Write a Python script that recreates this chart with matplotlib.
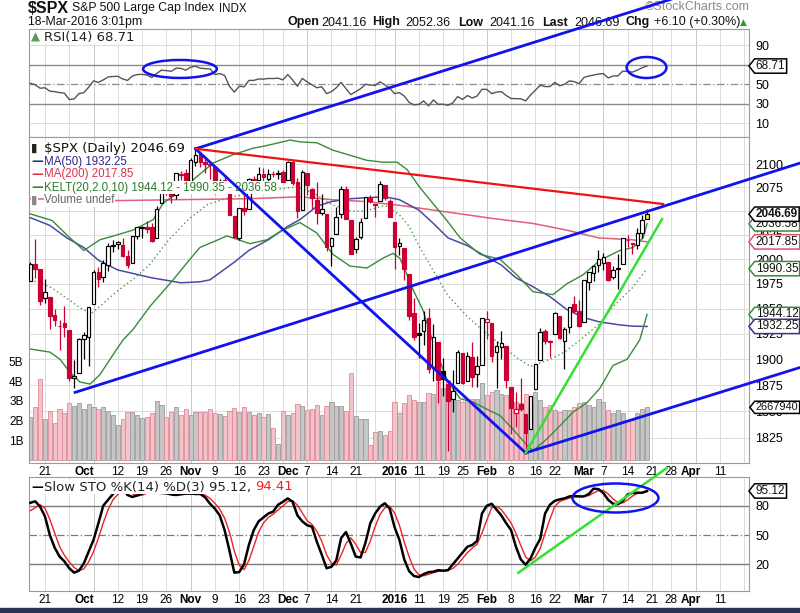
import numpy as np
import pandas as pd
import matplotlib
matplotlib.use("Agg")
import matplotlib.pyplot as plt
import matplotlib.transforms as mtransforms
from matplotlib.patches import Ellipse, Rectangle
from matplotlib.path import Path
from matplotlib.ticker import FixedLocator, NullLocator, FixedFormatter, NullFormatter

plt.rcParams["font.family"] = ["DejaVu Sans"]

# ---- trading calendar (Sep 16 2015 .. Apr 2016, exchange holidays removed)
HOLIDAYS = ["2015-11-26", "2015-12-25", "2016-01-01", "2016-01-18", "2016-02-15", "2016-03-25"]
days = pd.bdate_range("2015-09-16", "2016-04-22")
days = days[~days.isin(pd.to_datetime(HOLIDAYS))]
pos = {d.strftime("%Y-%m-%d"): i for i, d in enumerate(days)}

# ---- $SPX daily candles, Sep 16 2015 .. Mar 18 2016
opens = [1978.02, 1995.33, 1989.66, 1960.84, 1961.39, 1943.24, 1932.24, 1935.93, 1929.18, 1881.90,
         1887.14, 1919.65, 1921.77, 1954.33, 1986.63, 1982.34, 1994.01, 2013.73, 2015.65, 2015.00,
         2003.66, 1996.47, 2024.37, 2031.73, 2033.13, 2033.47, 2021.88, 2058.19, 2075.08, 2068.75,
         2066.48, 2088.35, 2090.00, 2080.76, 2102.63, 2110.60, 2101.68, 2098.60, 2096.56, 2077.19,
         2083.41, 2072.29, 2044.64, 2022.08, 2053.67, 2051.99, 2083.70, 2082.82, 2089.41, 2084.42,
         2089.30, 2088.82, 2090.95, 2082.93, 2101.71, 2080.71, 2051.24, 2090.42, 2073.39, 2061.17,
         2047.93, 2047.27, 2013.37, 2025.55, 2046.50, 2073.76, 2040.81, 2010.27, 2023.15, 2042.20,
         2063.52, 2057.77, 2060.54, 2077.34, 2060.59, 2038.20, 2013.78, 2011.71, 1985.32, 1945.97,
         1926.12, 1927.83, 1940.34, 1891.68, 1916.68, 1888.66, 1876.18, 1861.46, 1877.40, 1906.28,
         1878.79, 1902.52, 1885.22, 1894.00, 1936.94, 1935.26, 1907.07, 1911.67, 1913.07, 1873.25,
         1848.46, 1857.10, 1847.00, 1833.40, 1871.44, 1898.80, 1927.57, 1916.74, 1924.44, 1942.38,
         1917.56, 1931.87, 1954.95, 1947.13, 1937.09, 1976.60, 1985.60, 1994.01, 1996.11, 1996.88,
         1981.44, 1990.97, 1994.71, 2019.27, 2015.27, 2014.24, 2026.90, 2041.16]
highs = [1997.26, 2020.86, 1989.66, 1979.64, 1961.39, 1949.52, 1938.88, 1952.89, 1929.18, 1899.48,
         1920.53, 1927.21, 1951.36, 1989.17, 1991.62, 1999.31, 2016.50, 2020.13, 2018.66, 2022.34,
         2009.56, 2024.15, 2033.54, 2034.45, 2039.12, 2037.97, 2055.20, 2079.74, 2075.14, 2070.37,
         2090.35, 2092.52, 2094.32, 2106.20, 2116.48, 2114.59, 2108.78, 2101.91, 2096.56, 2083.67,
         2086.94, 2072.29, 2044.64, 2053.22, 2066.69, 2085.31, 2086.74, 2097.06, 2095.61, 2094.12,
         2093.00, 2093.29, 2093.81, 2103.37, 2104.27, 2085.00, 2093.84, 2090.42, 2073.85, 2080.33,
         2067.65, 2047.27, 2022.92, 2053.87, 2076.72, 2076.37, 2040.81, 2022.90, 2042.74, 2064.73,
         2067.36, 2057.77, 2081.56, 2077.34, 2062.54, 2038.20, 2021.94, 2011.71, 1985.32, 1960.40,
         1935.65, 1947.38, 1950.33, 1934.47, 1916.68, 1901.44, 1876.18, 1889.85, 1908.85, 1906.28,
         1906.73, 1916.99, 1902.96, 1940.24, 1947.20, 1935.26, 1918.01, 1927.35, 1913.07, 1873.25,
         1868.25, 1881.60, 1847.00, 1864.78, 1895.77, 1930.68, 1930.00, 1918.78, 1946.70, 1942.38,
         1932.08, 1951.83, 1962.96, 1958.27, 1978.35, 1986.51, 1993.69, 2009.13, 2006.12, 1996.88,
         1992.69, 2005.08, 2022.37, 2024.57, 2015.94, 2032.02, 2046.19, 2052.36]
lows = [1977.93, 1980.88, 1953.45, 1955.80, 1929.22, 1932.57, 1908.92, 1921.50, 1879.21, 1871.91,
        1887.14, 1900.70, 1893.70, 1954.33, 1971.99, 1976.44, 1987.53, 2007.61, 2010.55, 2001.78,
        1990.73, 1996.47, 2020.46, 2022.31, 2026.61, 2017.22, 2021.88, 2058.19, 2066.53, 2058.84,
        2063.11, 2082.63, 2079.34, 2080.76, 2097.51, 2096.98, 2090.41, 2083.74, 2068.24, 2069.91,
        2074.85, 2045.66, 2022.02, 2019.94, 2045.90, 2051.99, 2078.76, 2082.82, 2081.39, 2070.29,
        2086.30, 2084.13, 2080.41, 2082.93, 2077.11, 2042.35, 2051.24, 2066.78, 2052.32, 2036.53,
        2045.67, 2008.80, 1993.26, 2025.55, 2042.43, 2041.66, 2005.33, 2005.93, 2020.49, 2042.20,
        2058.73, 2044.20, 2060.54, 2061.97, 2043.62, 1989.68, 2004.17, 1979.05, 1938.83, 1918.46,
        1901.10, 1914.35, 1886.41, 1878.93, 1857.83, 1864.60, 1812.29, 1848.98, 1877.40, 1875.97,
        1878.79, 1872.70, 1873.65, 1894.00, 1920.30, 1897.29, 1872.23, 1900.52, 1872.65, 1828.46,
        1834.94, 1850.32, 1810.10, 1833.40, 1871.44, 1898.80, 1915.09, 1902.17, 1924.44, 1919.44,
        1891.00, 1925.41, 1945.78, 1931.81, 1937.09, 1968.80, 1977.37, 1986.77, 1989.38, 1977.43,
        1979.84, 1969.25, 1994.71, 2012.05, 2005.23, 2010.04, 2022.16, 2041.16]
closes = [1995.31, 1990.20, 1958.03, 1966.97, 1942.74, 1938.76, 1932.24, 1931.34, 1881.77, 1884.09,
          1920.03, 1923.82, 1951.36, 1987.05, 1979.92, 1995.83, 2013.43, 2014.89, 2017.46, 2003.69,
          1994.24, 2023.86, 2033.11, 2033.66, 2030.77, 2018.94, 2052.51, 2075.15, 2071.18, 2065.89,
          2090.35, 2089.41, 2079.36, 2104.05, 2109.79, 2102.31, 2099.93, 2099.20, 2078.58, 2081.72,
          2075.00, 2045.97, 2023.04, 2053.19, 2050.44, 2083.58, 2081.24, 2089.17, 2086.59, 2089.14,
          2088.87, 2090.11, 2080.41, 2102.63, 2079.51, 2049.62, 2091.69, 2077.07, 2063.59, 2047.62,
          2052.23, 2012.37, 2021.94, 2043.41, 2073.07, 2041.89, 2005.55, 2021.15, 2038.97, 2064.29,
          2060.99, 2056.50, 2078.36, 2063.36, 2043.94, 2012.66, 2016.71, 1990.26, 1943.09, 1922.03,
          1923.67, 1938.68, 1890.28, 1921.84, 1880.33, 1881.33, 1859.33, 1868.99, 1906.90, 1877.08,
          1903.63, 1882.95, 1893.36, 1940.24, 1939.38, 1903.03, 1912.53, 1915.45, 1880.05, 1853.44,
          1852.21, 1851.86, 1829.08, 1864.78, 1895.58, 1926.82, 1917.83, 1917.78, 1945.50, 1921.27,
          1929.80, 1951.70, 1948.05, 1932.23, 1978.35, 1986.45, 1993.40, 1999.99, 2001.76, 1979.26,
          1989.26, 1989.57, 2022.19, 2019.64, 2015.93, 2027.22, 2040.59, 2046.69]
PREV_CLOSE = 1978.09
volume_b = [2.2, 2.7, 4.1, 2.1, 2.5, 1.85, 2.6, 2.4, 2.9, 2.75,
            2.9, 2.6, 2.85, 2.7, 2.6, 2.7, 2.5, 2.3, 1.75, 2.05,
            2.45, 2.45, 2.3, 2.15, 2.2, 2.4, 3.0, 2.8, 2.2, 2.45,
            2.7, 2.3, 2.6, 2.3, 2.45, 2.45, 2.45, 2.6, 2.4, 2.35,
            2.25, 2.5, 2.65, 2.45, 2.7, 2.45, 2.3, 2.4, 2.2, 2.35,
            1.6, 0.8, 2.5, 2.3, 2.4, 2.85, 2.75, 2.55, 2.6, 2.8,
            2.3, 2.75, 2.95, 2.75, 2.75, 2.5, 4.4, 2.25, 2.1, 2.1,
            0.75, 1.4, 1.45, 1.25, 1.45, 2.95, 2.36, 2.87, 3.3, 3.04,
            2.96, 2.96, 3.41, 3.36, 3.97, 3.64, 4.06, 3.13, 3.04, 2.96,
            3.04, 3.1, 3.1, 3.89, 3.3, 3.47, 3.55, 3.36, 3.3, 3.36,
            2.96, 2.87, 3.36, 2.87, 3.45, 3.04, 2.7, 2.79, 2.53, 2.45,
            2.53, 2.53, 2.7, 2.87, 2.96, 2.79, 2.7, 3.1, 2.96, 2.53,
            2.4, 2.53, 2.36, 2.0, 2.0, 2.4, 2.58, 2.67]

# ---- overlays (x = trading-day index)
MA50_X = [0, 4, 7.5, 11, 14, 18, 25, 31, 35, 37, 42, 45, 49, 53, 55.5, 59, 62, 66, 69, 73,
          76, 80, 83, 86, 90, 93, 97, 100, 103.5, 107, 110.5, 114, 117, 121, 124, 127]
MA50_Y = [2043, 2035, 2022, 2012, 1999, 1989, 1981, 1976, 1977, 1979, 1997, 2009, 2020, 2034, 2041,
          2055, 2060, 2063, 2064, 2065, 2062, 2051, 2037, 2022, 2014, 2005, 1994, 1981, 1972, 1962,
          1949, 1941, 1937, 1934, 1932.5, 1932.25]
MA200_X = [0, 18, 31, 45, 55.5, 62, 69, 76, 83, 90, 94, 103.5, 110.5, 117, 124, 127]
MA200_Y = [2063, 2061, 2062, 2063, 2065, 2062, 2060, 2056, 2051, 2046, 2043, 2037, 2030, 2022, 2020, 2017.85]
KELT_MID_X = [0, 4, 7, 10.5, 12.5, 14.5, 17.5, 21.5, 24.5, 28.5, 32.5, 36.5, 41.5, 49, 54, 56, 59, 62,
              66, 69, 73, 76, 78, 80, 83, 86, 90, 93, 97, 100, 103, 107, 110, 113, 117, 120, 124, 127]
KELT_MID_Y = [1979, 1972, 1962, 1950, 1945, 1953, 1966, 1981, 1994, 2020, 2041, 2057, 2065, 2072, 2075,
              2074, 2067, 2057, 2050, 2050, 2056, 2046, 2034, 2014, 1988, 1963, 1942, 1929, 1914, 1902,
              1893, 1900, 1907, 1918, 1934, 1952, 1971, 1990.35]
KELT_UP_X = [0, 4.5, 7.5, 11, 14.3, 17.8, 21.1, 25.3, 27.3, 30.2, 33.5, 37.6, 41.7, 45.8, 48.7, 53.5,
             55.5, 59, 62.3, 69.3, 72.6, 75.5, 77.6, 80.2, 82.9, 85.8, 88.5, 92.6, 96.7, 100.2, 103.5,
             107.6, 110.5, 113.8, 117.3, 119.4, 121.4, 124.1, 126.2, 127]
KELT_UP_Y = [2047, 2040, 2025, 2009, 2020, 2025, 2030, 2041, 2058, 2069, 2083, 2101, 2110, 2117, 2120,
             2126, 2124, 2123, 2115, 2104, 2102, 2102, 2094, 2075, 2058, 2040, 2022, 2005, 2000, 1984,
             1967, 1964, 1975, 1984, 1999, 2004, 2009, 2012, 2022, 2036.58]
KELT_LO_X = [0, 4, 6.1, 8.2, 10.2, 12.3, 14.3, 17.8, 19.1, 21.1, 24.6, 29.4, 32.2, 34.9, 40.5, 45.2,
             48.7, 52, 55.5, 59, 62.3, 65.8, 69.3, 72.6, 74.7, 76.1, 77.5, 78.8, 80.8, 82.9, 85.8,
             88.5, 91.1, 94, 96.7, 99.4, 102.3, 103.5, 106.4, 109, 111.7, 114.6, 117.3, 120, 122.9,
             125.5, 127]
KELT_LO_Y = [1910, 1907, 1900, 1887, 1878, 1876, 1885, 1910, 1919, 1929, 1952, 1979, 1996, 2012, 2024,
             2016, 2020, 2030, 2038, 2027, 2005, 1993, 1991, 2001, 2006, 2001, 1985, 1969, 1949, 1917,
             1880, 1862, 1859, 1852, 1846, 1833, 1818, 1813, 1824, 1836, 1849, 1858, 1872, 1894, 1900,
             1919, 1944.12]

rsi = [51, 49.5, 46, 46.5, 43, 42.5, 41.5, 41, 34.5, 35, 40.5,
       41.5, 47, 53.5, 52, 54.5, 57.5, 58, 58.2, 55.5, 54,
       58.5, 60, 60.2, 59.5, 57, 61, 64.5, 64, 63.3, 66.5,
       66.3, 64.5, 67.5, 68.5, 66.5, 66, 65.8, 60, 61, 59,
       48, 42, 48, 47.5, 54, 54, 55.5, 55.3, 56, 55.9,
       56.3, 54.5, 60, 54.5, 48, 56, 52.5, 49.5, 46.5, 47.5,
       40.5, 42.5, 46.5, 52, 45.5, 39.5, 42.5, 45.5, 50, 49.3,
       48.8, 52.5, 49.5, 46, 40.5, 41.5, 38, 31.5, 29, 29.5,
       33, 28, 34, 29.5, 29.7, 28.5, 31, 37.5, 34.5, 38.5,
       36, 38, 45, 44.8, 40.5, 42, 42.5, 38.5, 35.5, 35.3,
       35.2, 33, 39, 44, 49, 47.7, 47.7, 52, 48.5, 50,
       53.5, 52.8, 50.5, 57, 58.5, 59.5, 60.5, 61, 56.5, 58.5,
       58.6, 63.5, 63.2, 62.5, 64.5, 67, 68.71]
sto_k = [83, 84.5, 79, 69, 50, 37, 28, 23, 16, 11.5, 13.5,
         21, 33, 45, 62, 80, 86, 92, 96.5, 97, 91,
         89, 90.5, 92.5, 95.5, 95, 93.5, 93, 92.7, 91.5, 91,
         91.7, 92.5, 92.5, 92, 92, 88.5, 82, 77, 70, 55,
         34, 11.5, 12, 20, 40, 55, 64, 68, 72, 74,
         81, 84, 87.5, 84, 70, 64, 60, 58.5, 43, 30,
         16, 17.5, 24, 47, 53, 41, 28, 27, 42, 62,
         72, 79, 82.5, 77, 58, 45, 25, 13, 8, 7,
         10, 12, 12.5, 14, 13.5, 14, 20, 26, 32, 38,
         39.8, 44, 72, 80, 82, 76, 70, 62, 55, 38,
         25, 19.5, 26, 37, 46, 72, 81, 85, 86.5, 87.5,
         89.5, 90, 89.5, 89.5, 92, 97.5, 97, 93, 86, 82,
         81.5, 85, 91.5, 93, 93.3, 93.3, 95.12]
sto_d = [75, 78, 81, 77.5, 66, 52, 38.3, 29.3, 22.3, 16.8, 13.7,
         15.3, 22.5, 33, 46.7, 62.3, 76, 86, 91.5, 95.2, 94.8,
         92.3, 90.2, 90.7, 92.8, 94.3, 94.7, 93.8, 93.1, 92.4, 91.7,
         91.4, 91.7, 92.2, 92.3, 92.2, 90.8, 87.5, 82.5, 76.3, 67.3,
         53, 33.5, 19.2, 14.5, 24, 38.3, 53, 62.3, 68, 71.3,
         75.7, 79.7, 84.2, 85.2, 80.5, 72.7, 64.7, 60.8, 53.8, 43.8,
         29.7, 21.2, 19.2, 29.5, 41.3, 47, 40.7, 32, 32.3, 43.7,
         58.7, 71, 77.8, 79.5, 72.5, 60, 42.7, 27.7, 15.3, 9.3,
         8.3, 9.7, 11.5, 12.8, 13.3, 13.8, 15.8, 20, 26, 32,
         36.6, 40.6, 51.9, 65.3, 78, 79.3, 76, 69.3, 62.3, 51.7,
         39.3, 27.5, 23.5, 27.5, 36.3, 51.7, 66.3, 79.3, 84.2, 86.3,
         87.8, 89, 89.7, 89.7, 90.3, 93, 95.5, 95.8, 92, 87,
         83.2, 82.8, 86, 89.8, 92.6, 93.2, 94.41]

# hand-drawn trend lines and circles (trading-day index, value)
TL_LOW_CHANNEL = ([9.2, 158.5], [1868, 2101])
TL_HIGH_CHANNEL = ([34, 135.8], [2116.5, 2292])
TL_DOWN = ([34, 102], [2116.5, 1811])
TL_FEB_CHANNEL = ([102, 158.5], [1811, 1892])
TL_RED = ([34, 130.3], [2116.5, 2057.4])
TL_GREEN = ([102, 130.1], [1811, 2041.6])
TL_STO_GREEN = ([100.5, 131], [11.4, 118.3])
RSI_CIRCLES = [((30.8, 65.7), 15.2, 18.4), ((126.9, 67.2), 8.2, 21.5)]
STO_CIRCLE = ((120.5, 87.9), 17.7, 29.7)

TICK_DATES = ["2015-09-21", "2015-10-01", "2015-10-12", "2015-10-19", "2015-10-26", "2015-11-02",
              "2015-11-09", "2015-11-16", "2015-11-23", "2015-12-01", "2015-12-07", "2015-12-14",
              "2015-12-21", "2016-01-04", "2016-01-11", "2016-01-19", "2016-01-25", "2016-02-01",
              "2016-02-08", "2016-02-16", "2016-02-22", "2016-03-01", "2016-03-07", "2016-03-14",
              "2016-03-21", "2016-03-28", "2016-04-01", "2016-04-11"]
TICK_LABELS = ["21", "Oct", "12", "19", "26", "Nov", "9", "16", "23", "Dec", "7", "14", "21", "2016",
               "11", "19", "25", "Feb", "8", "16", "22", "Mar", "7", "14", "21", "28", "Apr", "11"]
BOLD_LABELS = {"Oct", "Nov", "Dec", "2016", "Feb", "Mar", "Apr"}
PRICE_TICKS = [1825, 1850, 1875, 1900, 1925, 1950, 1975, 2000, 2025, 2050, 2075, 2100]

# ---- colours
RED = "#cc0033"
BLUE_PEN = "#1212ee"
RED_PEN = "#f01212"
GREEN_PEN = "#33e033"
GRID = "#dcdcdc"
SPINE = "#9a9a9a"
TICKFONT = "Liberation Sans"

W, H = 800, 613
fig = plt.figure(figsize=(W / 100, H / 100), dpi=100)


def rect(x0, y0, x1, y1):
    return [x0 / W, 1 - y1 / H, (x1 - x0) / W, (y1 - y0) / H]


def fx(x):
    return x / W


def fy(y):
    return 1 - y / H


ax_rsi = fig.add_axes(rect(29, 29, 749, 137), zorder=1)
ax_vol = fig.add_axes(rect(29, 137, 749, 463), zorder=2)
ax = fig.add_axes(rect(29, 137, 749, 463), zorder=3)
ax_sto = fig.add_axes(rect(29, 477, 749, 591), zorder=4)
ax.patch.set_visible(False)

XLIM = (-0.29, 148.0)
n = len(closes)
x = np.arange(n)
o, h, l, c = map(np.array, (opens, highs, lows, closes))
prev = np.concatenate([[PREV_CLOSE], c[:-1]])

# weekly grid positions
week_starts = [i for i in range(1, len(days)) if days[i].isocalendar().week != days[i - 1].isocalendar().week]
tick_pos = [pos[d] for d in TICK_DATES]

for a in (ax_rsi, ax_vol, ax, ax_sto):
    a.set_xlim(*XLIM)
    for s in a.spines.values():
        s.set_color(SPINE)
        s.set_linewidth(0.8)
for s in ax.spines.values():
    s.set_visible(False)

for a in (ax_rsi, ax_vol, ax_sto):
    for i in week_starts:
        a.axvline(i, color="#c8c8c8" if days[i].day <= 7 else GRID, lw=0.7, zorder=0)

# ---- price panel
ax.set_yscale("log")
ax.set_ylim(1801.6, 2129.3)
ax.yaxis.set_major_locator(FixedLocator(PRICE_TICKS))
ax.yaxis.set_major_formatter(FixedFormatter([str(p) for p in PRICE_TICKS]))
ax.yaxis.set_minor_locator(NullLocator())
ax.yaxis.set_minor_formatter(NullFormatter())
ax.yaxis.tick_right()
ax.tick_params(axis="y", length=0, pad=4.5, labelsize=9, labelfontfamily=TICKFONT)

price_rows = mtransforms.blended_transform_factory(ax_vol.transAxes, ax.transData)
for p in PRICE_TICKS:
    ax_vol.plot([0, 1], [p, p], transform=price_rows, color=GRID, lw=0.7, zorder=0)

# volume under the candles
ax_vol.set_ylim(-0.17, 16.46)
vol_face = np.where(c >= prev, "#c6c6c6", "#f3c3c9")
vol_edge = np.where(c >= prev, "#9c9c9c", "#dc8c98")
ax_vol.bar(x, volume_b, width=0.86, color=vol_face, edgecolor=vol_edge, lw=0.6, zorder=2)
ax_vol.set_yticks([1, 2, 3, 4, 5], ["1B", "2B", "3B", "4B", "5B"])
ax_vol.tick_params(axis="y", length=0, pad=4, labelsize=8.5, labelfontfamily=TICKFONT)
ax_vol.set_xticks([])

# indicator lines
ax.plot(MA200_X, MA200_Y, color="#e0607a", lw=1.1, zorder=2)
ax.plot(MA50_X, MA50_Y, color="#4a4aa6", lw=1.1, zorder=2)
ax.plot(KELT_UP_X, KELT_UP_Y, color="#3a8a3a", lw=1.0, zorder=2)
ax.plot(KELT_LO_X, KELT_LO_Y, color="#3a8a3a", lw=1.0, zorder=2)
ax.plot(KELT_MID_X, KELT_MID_Y, color="#4a9a4a", lw=1.0, ls=(0, (1, 2)), zorder=2)

# candles
pen = np.where(c >= prev, "black", RED)
ax.vlines(x, l, h, colors=pen, lw=0.9, zorder=3)
body_lo = np.minimum(o, c)
body_h = np.maximum(np.abs(c - o), 0.9)
face = np.where(c > o, "white", pen).astype(object)
face[-1] = "#f4e24e"
ax.bar(x, body_h, bottom=body_lo, width=0.74, color=list(face), edgecolor=pen, lw=0.85, zorder=4)

# x ticks
for a in (ax, ax_sto):
    a.set_xticks(tick_pos, TICK_LABELS)
    a.tick_params(axis="x", length=0, pad=2.5, labelsize=8.5, labelfontfamily=TICKFONT)
    for t in a.get_xticklabels():
        if t.get_text() in BOLD_LABELS:
            t.set_fontweight("bold")
ax_rsi.set_xticks([])

# ---- RSI panel
ax_rsi.set_ylim(-3.9, 106.6)
for lv in (10, 90):
    ax_rsi.axhline(lv, color=GRID, lw=0.7, zorder=0)
for lv in (30, 70):
    ax_rsi.axhline(lv, color="#8a8a8a", lw=1.0, zorder=1)
ax_rsi.axhline(50, color="#8a8a8a", lw=0.9, ls=(0, (6, 2, 1, 2)), zorder=1)
ax_rsi.plot(x, rsi, color="#555555", lw=1.0, zorder=3)
ax_rsi.yaxis.tick_right()
ax_rsi.set_yticks([10, 30, 50, 90])
ax_rsi.tick_params(axis="y", length=0, pad=4.5, labelsize=9, labelfontfamily=TICKFONT)
for (cx, cy), ew, eh in RSI_CIRCLES:
    ax_rsi.add_patch(Ellipse((cx, cy), ew, eh, fill=False, ec=BLUE_PEN, lw=1.8, clip_on=False, zorder=6))

# ---- Slow stochastic panel
ax_sto.set_ylim(-7.3, 109.4)
for lv in (20, 80):
    ax_sto.axhline(lv, color="#7a7a7a", lw=1.0, zorder=1)
ax_sto.axhline(50, color="#7a7a7a", lw=0.9, ls=(0, (6, 2, 1, 2)), zorder=1)
ax_sto.plot(x, sto_d, color="#ee2222", lw=1.0, zorder=3)
ax_sto.plot(x, sto_k, color="black", lw=1.8, zorder=4)
ax_sto.yaxis.tick_right()
ax_sto.set_yticks([20, 50, 80])
ax_sto.tick_params(axis="y", length=0, pad=4.5, labelsize=9, labelfontfamily=TICKFONT)
ax_sto.plot(*TL_STO_GREEN, color=GREEN_PEN, lw=1.8, clip_on=False, zorder=6)
(cx, cy), ew, eh = STO_CIRCLE
ax_sto.add_patch(Ellipse((cx, cy), ew, eh, fill=False, ec=BLUE_PEN, lw=1.8, clip_on=False, zorder=6))

# ---- trend lines on the price panel
for line in (TL_LOW_CHANNEL, TL_HIGH_CHANNEL, TL_DOWN, TL_FEB_CHANNEL):
    ax.plot(*line, color=BLUE_PEN, lw=2.0, clip_on=False, zorder=7)
ax.plot(*TL_RED, color=RED_PEN, lw=1.6, clip_on=False, zorder=7)
ax.plot(*TL_GREEN, color=GREEN_PEN, lw=1.8, clip_on=False, zorder=7)


# ---- value tags on the right edge
def tag_box(x0, y0, width, height, mutation_size):
    pad = 0.1 * mutation_size
    x0, y0 = x0 - pad, y0 - pad
    width, height = width + pad * 2, height + 2 * pad
    tip = height * 0.4
    verts = [(x0, y0), (x0 + width, y0), (x0 + width, y0 + height), (x0, y0 + height),
             (x0 - tip, y0 + height / 2), (x0, y0)]
    codes = [Path.MOVETO] + [Path.LINETO] * 4 + [Path.CLOSEPOLY]
    return Path(verts, codes)


def tag(owner, ydata_ax, value, text, ec, bold=False, size=8.5):
    tr = mtransforms.blended_transform_factory(owner.transAxes, ydata_ax.transData)
    owner.text(1.0095, value, text, transform=tr, ha="left", va="center", fontsize=size,
               family=TICKFONT, fontweight="bold" if bold else "normal", color="#111111",
               bbox=dict(boxstyle=tag_box, fc="white", ec=ec, lw=1.1), clip_on=False, zorder=9)


tag(ax_rsi, ax_rsi, 68.71, "68.71", "black")
tag(ax_sto, ax_sto, 95.12, "95.12", "black")
tag(ax, ax_vol, 2.67, "2667940", "black", size=7.9)
tag(ax, ax, 2036.58, "2036.58", "#3a8a3a")
tag(ax, ax, 2017.85, "2017.85", "#d9536f")
tag(ax, ax, 1990.35, "1990.35", "#3a8a3a")
tag(ax, ax, 1944.12, "1944.12", "#3a8a3a")
tag(ax, ax, 1932.25, "1932.25", "#33338a")
tag(ax, ax, 2046.69, "2046.69", "black", bold=True)

# ---- panel legends
white = dict(fc="white", ec="none", pad=0.1)


def legend_line(owner, y, mark, mcolor, text, tcolor, family="DejaVu Sans", size=9.5):
    owner.text(fx(31), fy(y), mark, transform=fig.transFigure, color=mcolor, fontsize=8.5,
               fontweight="bold", va="center", ha="left", bbox=white, zorder=5)
    owner.text(fx(44), fy(y), text, transform=fig.transFigure, color=tcolor, fontsize=size,
               family=family, va="center", ha="left", bbox=white, zorder=5)


legend_line(ax, 148.5, "\u25ae", "#222222", "$SPX (Daily) 2046.69", "#111111")
legend_line(ax, 161.5, "\u2014", "#2a2a8a", "MA(50) 1932.25", "#2a2a8a", TICKFONT, 8.3)
legend_line(ax, 174.5, "\u2014", "#e0304a", "MA(200) 2017.85", "#e0304a", TICKFONT, 8.3)
legend_line(ax, 187.5, "\u2014", "#2c7a2c", "KELT(20,2.0,10) 1944.12 - 1990.35 - 2036.58", "#2c7a2c",
            TICKFONT, 8.3)
legend_line(ax, 200.5, "\u25ae", "#888888", "Volume undef", "#666666", TICKFONT, 8.3)
legend_line(ax_rsi, 37, "\u25b2", "#5a9a5a", "RSI(14) 68.71", "#222222")
legend_line(ax_sto, 487, "\u2014", "black", "Slow STO %K(14) %D(3) 95.12,", "#222222")
ax_sto.text(fx(255), fy(487), "94.41", transform=fig.transFigure, color="#ee2222", fontsize=9.5,
            va="center", ha="left", bbox=white, zorder=5)


# ---- header
def head(xp, yp, s, **kw):
    kw.setdefault("family", TICKFONT)
    kw.setdefault("fontsize", 9)
    kw.setdefault("color", "#111111")
    fig.text(fx(xp), fy(yp), s, ha="left", va="center", zorder=2, **kw)


head(28, 8.5, "$SPX", fontsize=11.5, fontweight="bold")
head(72, 8.5, "S&P 500 Large Cap Index", fontsize=8.8)
head(219, 9, "INDX", fontsize=8.3)
head(645, 7, "\u00a9StockCharts.com", color="#8a8a8a", fontsize=9)
head(28, 22.5, "18-Mar-2016 3:01pm", fontsize=8.8)
for xp, s, bold in [(287, "Open", True), (321, "2041.16", False), (372, "High", True),
                    (405, "2052.36", False), (458, "Low", True), (489, "2041.16", False),
                    (542, "Last", True), (574, "2046.69", False), (626, "Chg", True),
                    (654, "+6.10 (+0.30%)", False)]:
    head(xp, 22.5, s, fontweight="bold" if bold else "normal")
head(740, 22.5, "\u25b2", family="DejaVu Sans", fontsize=6.5, color="#2e9a2e")

fig.patches.append(Rectangle((0, 0), 1, 5 / H, transform=fig.transFigure, color="#2b3150", zorder=0))

fig.savefig("out.png", dpi=100)
